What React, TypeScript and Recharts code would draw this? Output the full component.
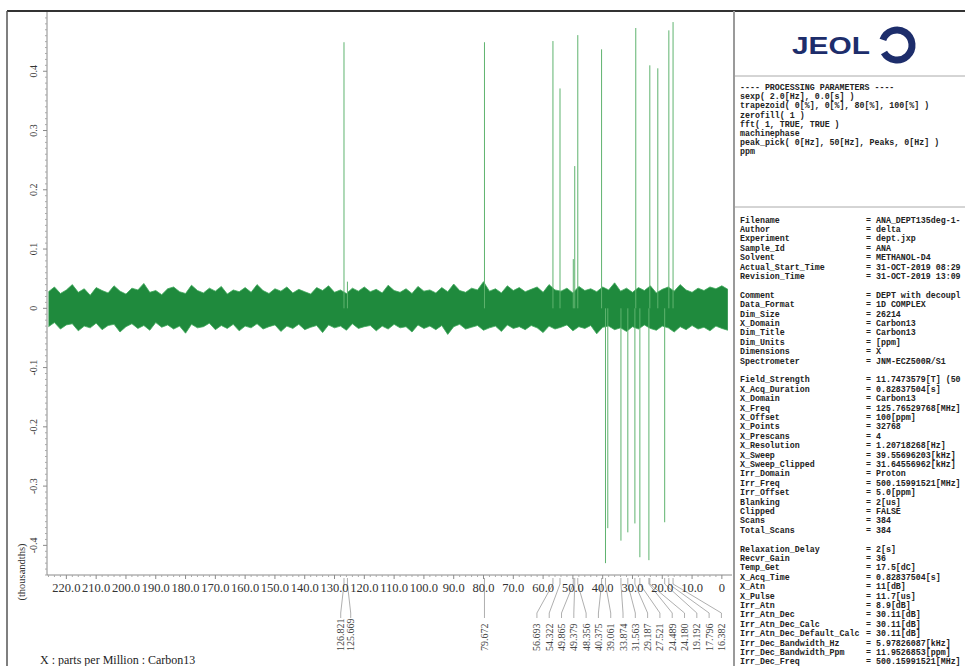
import React from 'react';
import { ComposedChart, Area, Line, XAxis, YAxis, ReferenceDot } from 'recharts';

// axis ticks (ppm and intensity)
const xTicks = [220, 210, 200, 190, 180, 170, 160, 150, 140, 130, 120, 110, 100, 90, 80, 70, 60, 50, 40, 30, 20, 10, 0];
const yTicks = [-0.4, -0.3, -0.2, -0.1, 0, 0.1, 0.2, 0.3, 0.4];

// DEPT-135 peaks: position (ppm) and intensity (thousandths)
const peakPpm = [126.821, 125.669, 79.672, 56.693, 54.322, 49.865, 49.379, 48.356, 40.375, 39.061, 38.286, 33.874, 31.563, 29.187, 28.893, 27.521, 24.489, 24.18, 21.504, 19.192, 17.796, 16.382];
const peakHeight = [0.449, 0.045, 0.449, 0.451, 0.371, 0.083, 0.24, 0.461, 0.437, -0.43, -0.371, -0.392, -0.378, -0.363, 0.473, -0.42, -0.425, 0.41, 0.405, -0.361, 0.469, 0.483];

// peak-pick labels drawn under the axis
const peakLabels = [126.821, 125.669, 79.672, 56.693, 54.322, 49.865, 49.379, 48.356, 40.375, 39.061, 33.874, 31.563, 29.187, 27.521, 24.489, 24.18, 19.192, 17.796, 16.382];

// baseline noise envelope, sampled every 2 ppm from 226 ppm
const NOISE_START = 226;
const NOISE_STEP = 2;
const noiseHi = [
  0.028, 0.036, 0.025, 0.031, 0.04, 0.027, 0.033, 0.022, 0.035, 0.03,
  0.026, 0.038, 0.029, 0.024, 0.034, 0.031, 0.042, 0.027, 0.03, 0.023,
  0.033, 0.036, 0.028, 0.025, 0.039, 0.03, 0.026, 0.034, 0.029, 0.037,
  0.024, 0.031, 0.028, 0.035, 0.027, 0.04, 0.03, 0.025, 0.033, 0.029,
  0.036, 0.026, 0.032, 0.028, 0.024, 0.035, 0.03, 0.038, 0.027, 0.031,
  0.025, 0.034, 0.029, 0.036, 0.028, 0.032, 0.026, 0.039, 0.03, 0.027,
  0.033, 0.025, 0.037, 0.029, 0.031, 0.026, 0.035, 0.028, 0.041, 0.03,
  0.027, 0.034, 0.031, 0.045, 0.029, 0.033, 0.026, 0.038, 0.03, 0.035,
  0.028, 0.032, 0.036, 0.027, 0.04, 0.031, 0.029, 0.034, 0.026, 0.037,
  0.03, 0.033, 0.028, 0.036, 0.031, 0.043, 0.029, 0.034, 0.027, 0.035,
  0.03, 0.038, 0.026, 0.032, 0.036, 0.029, 0.04, 0.031, 0.027, 0.034,
  0.03, 0.036, 0.033, 0.038, 0.032,
];
const noiseLo = [
  -0.031, -0.024, -0.035, -0.028, -0.026, -0.038, -0.03, -0.033, -0.025, -0.036,
  -0.029, -0.027, -0.04, -0.031, -0.026, -0.034, -0.029, -0.037, -0.024, -0.032,
  -0.028, -0.035, -0.03, -0.042, -0.027, -0.033, -0.031, -0.025, -0.036, -0.029,
  -0.034, -0.027, -0.038, -0.03, -0.033, -0.026, -0.035, -0.031, -0.028, -0.039,
  -0.03, -0.034, -0.027, -0.036, -0.032, -0.029, -0.041, -0.028, -0.033, -0.03,
  -0.037, -0.026, -0.034, -0.031, -0.029, -0.038, -0.03, -0.035, -0.027, -0.033,
  -0.031, -0.04, -0.028, -0.034, -0.03, -0.036, -0.029, -0.044, -0.031, -0.027,
  -0.035, -0.032, -0.029, -0.037, -0.033, -0.03, -0.039, -0.028, -0.034, -0.031,
  -0.036, -0.029, -0.033, -0.041, -0.03, -0.035, -0.032, -0.028, -0.038, -0.031,
  -0.034, -0.029, -0.043, -0.032, -0.03, -0.036, -0.033, -0.039, -0.031, -0.035,
  -0.028, -0.034, -0.037, -0.03, -0.033, -0.04, -0.031, -0.036, -0.029, -0.035,
  -0.032, -0.038, -0.03, -0.034, -0.037,
];

// parameter panel text (values as far as the panel shows them)
const processingLines = [
  '---- PROCESSING PARAMETERS ----',
  'sexp( 2.0[Hz], 0.0[s] )',
  'trapezoid( 0[%], 0[%], 80[%], 100[%] )',
  'zerofill( 1 )',
  'fft( 1, TRUE, TRUE )',
  'machinephase',
  'peak_pick( 0[Hz], 50[Hz], Peaks, 0[Hz] )',
  'ppm',
];
const paramNames = [
  'Filename', 'Author', 'Experiment', 'Sample_Id', 'Solvent', 'Actual_Start_Time', 'Revision_Time', '',
  'Comment', 'Data_Format', 'Dim_Size', 'X_Domain', 'Dim_Title', 'Dim_Units', 'Dimensions', 'Spectrometer', '',
  'Field_Strength', 'X_Acq_Duration', 'X_Domain', 'X_Freq', 'X_Offset', 'X_Points', 'X_Prescans', 'X_Resolution',
  'X_Sweep', 'X_Sweep_Clipped', 'Irr_Domain', 'Irr_Freq', 'Irr_Offset', 'Blanking', 'Clipped', 'Scans', 'Total_Scans', '',
  'Relaxation_Delay', 'Recvr_Gain', 'Temp_Get', 'X_Acq_Time', 'X_Atn', 'X_Pulse', 'Irr_Atn', 'Irr_Atn_Dec',
  'Irr_Atn_Dec_Calc', 'Irr_Atn_Dec_Default_Calc', 'Irr_Dec_Bandwidth_Hz', 'Irr_Dec_Bandwidth_Ppm', 'Irr_Dec_Freq',
];
const paramValues = [
  'ANA_DEPT135deg-1-', 'delta', 'dept.jxp', 'ANA', 'METHANOL-D4', '31-OCT-2019 08:29', '31-OCT-2019 13:09', '',
  'DEPT with decoupl', '1D COMPLEX', '26214', 'Carbon13', 'Carbon13', '[ppm]', 'X', 'JNM-ECZ500R/S1', '',
  '11.7473579[T] (50', '0.82837504[s]', 'Carbon13', '125.76529768[MHz]', '100[ppm]', '32768', '4', '1.20718268[Hz]',
  '39.55696203[kHz]', '31.64556962[kHz]', 'Proton', '500.15991521[MHz]', '5.0[ppm]', '2[us]', 'FALSE', '384', '384', '',
  '2[s]', '36', '17.5[dC]', '0.82837504[s]', '11[dB]', '11.7[us]', '8.9[dB]', '30.11[dB]',
  '30.11[dB]', '30.11[dB]', '5.97826087[kHz]', '11.9526853[ppm]', '500.15991521[MHz]',
];

const W = 965;
const H = 666;
const CHART_W = 734;
const X_MIN = -3.4;
const X_MAX = 226.5;
const Y_MIN = -0.45;
const Y_MAX = 0.5;
const PLOT_LEFT = 47;
const PLOT_RIGHT = 732;
const PLOT_TOP = 12;
const PLOT_BOTTOM = 575;
const PX_PER_PPM = (PLOT_RIGHT - PLOT_LEFT) / (X_MAX - X_MIN);
const PX_PER_UNIT = (PLOT_BOTTOM - PLOT_TOP) / (Y_MAX - Y_MIN);
const SERIF = "'Liberation Serif', 'Times New Roman', serif";
const MONO = "'Liberation Mono', 'Courier New', monospace";
const GREEN = '#1f8a3d';

const noise = noiseHi.map((hi, i) => ({ ppm: NOISE_START - i * NOISE_STEP, band: [noiseLo[i], hi] }));
const peaks = peakPpm.map((p, i) => [
  { ppm: p, v: 0 },
  { ppm: p, v: peakHeight[i] },
]);

// spread crowded labels out, like the JEOL peak-pick fan
const labelOffsets = (() => {
  const sorted = [...peakLabels].sort((a, b) => b - a);
  const groups: number[][] = [];
  sorted.forEach((p) => {
    const g = groups[groups.length - 1];
    if (g && g[g.length - 1] - p < 10) g.push(p);
    else groups.push([p]);
  });
  const out = new Map<number, number>();
  groups.forEach((g) => {
    const gap = g.length > 2 ? 12.3 : 10;
    const lean = g.length > 2 ? 12 : 0;
    const mean = g.reduce((s, p) => s + p, 0) / g.length;
    g.forEach((p, i) => {
      const slot = (i - (g.length - 1) / 2) * gap + lean;
      const peakRel = (mean - p) * PX_PER_PPM;
      out.set(p, slot - peakRel);
    });
  });
  return out;
})();

function XTick(props: any) {
  const { x, y, payload } = props;
  const v = payload.value;
  const minors = [];
  for (let k = 1; k <= 4; k++) {
    if (v > 0) minors.push(x + k * 2 * PX_PER_PPM);
    if (v === 220 && k <= 3) minors.push(x - k * 2 * PX_PER_PPM);
  }
  return (
    <g>
      <line x1={x} x2={x} y1={y} y2={y + 4} stroke="#8a8a8a" />
      {minors.map((m, i) => (
        <line key={i} x1={m} x2={m} y1={y} y2={y + 2} stroke="#aaa" />
      ))}
      <text x={x} y={y + 17} textAnchor="middle" fontSize={12.5} fill="#333" fontFamily={SERIF}>
        {v === 0 ? '0' : v.toFixed(1)}
      </text>
    </g>
  );
}

function YTick(props: any) {
  const { x, y, payload } = props;
  const v = payload.value;
  const minors = [];
  for (let k = 1; k <= 9; k++) {
    minors.push(y - k * 0.01 * PX_PER_UNIT);
    if (v === -0.4 && k <= 5) minors.push(y + k * 0.01 * PX_PER_UNIT);
  }
  return (
    <g>
      <line x1={x - 4} x2={x} y1={y} y2={y} stroke="#8a8a8a" />
      {minors.map((m, i) => (
        <line key={i} x1={x - 2} x2={x} y1={m} y2={m} stroke="#aaa" />
      ))}
      <text
        transform={`translate(${x - 10},${y}) rotate(-90)`}
        textAnchor="middle"
        fontSize={10}
        fill="#333"
        fontFamily={SERIF}
      >
        {v === 0 ? '0' : v.toFixed(1)}
      </text>
    </g>
  );
}

function PeakLabel(props: any) {
  const { cx, cy, offset, text } = props;
  const lx = cx + offset;
  return (
    <g>
      <path
        d={`M${cx},${cy + 3}L${cx},${cy + 9}L${lx},${cy + 38}L${lx},${cy + 43}`}
        stroke="#9a9a9a"
        strokeWidth={0.8}
        fill="none"
      />
      <text
        transform={`translate(${lx + 3.5},${cy + 76}) rotate(-90)`}
        fontSize={10}
        fill="#444"
        fontFamily={SERIF}
      >
        {text}
      </text>
    </g>
  );
}

function SidePanel() {
  const x0 = 740;
  return (
    <svg width={W} height={H} style={{ position: 'absolute', left: 0, top: 0, pointerEvents: 'none' }}>
      <line x1={7} x2={W} y1={11} y2={11} stroke="#333" strokeWidth={2} />
      <line x1={7} x2={7} y1={11} y2={H} stroke="#555" strokeWidth={1.5} />
      <line x1={734} x2={734} y1={11} y2={H} stroke="#9a9a9a" strokeWidth={2} />
      <line x1={735} x2={W} y1={76} y2={76} stroke="#aaa" />
      <line x1={735} x2={W} y1={207} y2={207} stroke="#aaa" />

      {/* JEOL logo */}
      <text
        x={792}
        y={54}
        fontFamily="'Liberation Sans', Arial, sans-serif"
        fontWeight={900}
        fontSize={23}
        fill="#1d2d6b"
        textLength={78}
        lengthAdjust="spacingAndGlyphs"
      >
        JEOL
      </text>
      <path d="M882.9,39.9 A15,15 0 1 1 884,52.5" stroke="#1d2d6b" strokeWidth={7} fill="none" />

      {processingLines.map((t, i) => (
        <text key={i} x={x0} y={87 + i * 9.2 + 3} fontFamily={MONO} fontWeight="bold" fontSize={8.3} fill="#222">
          {t}
        </text>
      ))}
      {paramNames.map((n, i) =>
        n ? (
          <g key={i}>
            <text x={x0} y={219.5 + i * 9.4 + 3} fontFamily={MONO} fontWeight="bold" fontSize={8.3} fill="#222">
              {n}
            </text>
            <text x={866} y={219.5 + i * 9.4 + 3} fontFamily={MONO} fontWeight="bold" fontSize={8.3} fill="#222">
              {'= ' + paramValues[i]}
            </text>
          </g>
        ) : null
      )}

      <text transform="translate(25,572) rotate(-90)" textAnchor="middle" fontSize={10.5} fill="#333" fontFamily={SERIF}>
        (thousandths)
      </text>
      <text x={40} y={664} fontSize={12} fill="#222" fontFamily={SERIF}>
        X : parts per Million : Carbon13
      </text>
    </svg>
  );
}

export default function App() {
  return (
    <div
      style={{
        position: 'absolute',
        left: 0,
        top: 0,
        width: W,
        height: H,
        background: '#fff',
        overflow: 'hidden',
      }}
    >
      <div style={{ position: 'absolute', left: 0, top: 0 }}>
        <ComposedChart width={CHART_W} height={H} data={noise} margin={{ top: PLOT_TOP, right: CHART_W - PLOT_RIGHT, bottom: 0, left: 0 }}>
          <XAxis
            type="number"
            dataKey="ppm"
            domain={[X_MIN, X_MAX]}
            reversed
            allowDataOverflow
            ticks={xTicks}
            interval={0}
            tickSize={0}
            tickMargin={0}
            tickLine={false}
            tick={<XTick />}
            height={H - PLOT_BOTTOM}
            axisLine={{ stroke: '#8a8a8a' }}
          />
          <YAxis
            type="number"
            domain={[Y_MIN, Y_MAX]}
            allowDataOverflow
            ticks={yTicks}
            interval={0}
            width={PLOT_LEFT}
            tickSize={0}
            tickMargin={0}
            tickLine={false}
            tick={<YTick />}
            axisLine={{ stroke: '#8a8a8a' }}
          />
          {peaks.map((d, i) => (
            <Line
              key={'p' + i}
              data={d}
              dataKey="v"
              type="linear"
              stroke="#5fb36f"
              strokeWidth={1}
              dot={false}
              isAnimationActive={false}
            />
          ))}
          <Area
            dataKey="band"
            type="linear"
            stroke="#3fa85a"
            strokeWidth={0.8}
            fill={GREEN}
            fillOpacity={1}
            isAnimationActive={false}
          />
          {peakLabels.map((p) => (
            <ReferenceDot
              key={'l' + p}
              x={p}
              y={Y_MIN}
              r={0}
              ifOverflow="visible"
              shape={(sp: any) => <PeakLabel {...sp} offset={labelOffsets.get(p) || 0} text={p.toFixed(3)} />}
            />
          ))}
        </ComposedChart>
      </div>
      <SidePanel />
    </div>
  );
}
